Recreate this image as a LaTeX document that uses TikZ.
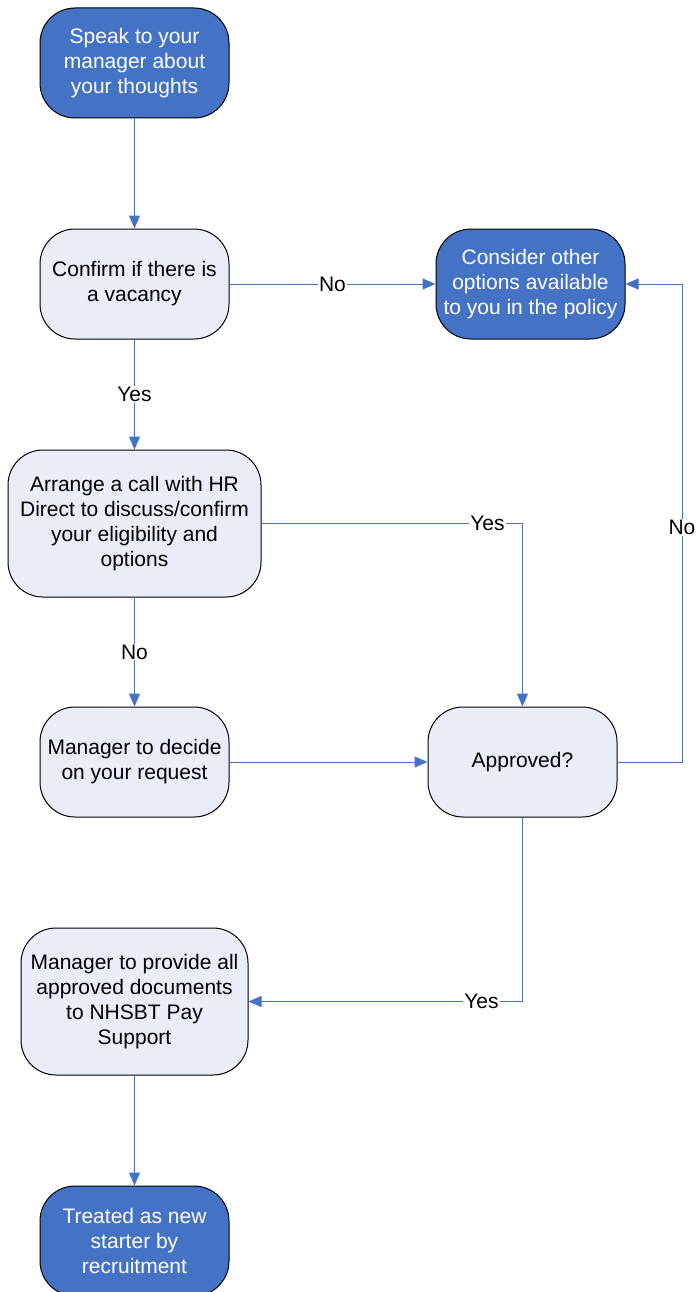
\documentclass[tikz,border=0pt]{standalone}
\usepackage{fontspec}
\setmainfont{Liberation Sans}
\usetikzlibrary{arrows.meta}
\definecolor{darkfill}{HTML}{4472C4}
\definecolor{lightfill}{HTML}{E8EDF7}
\definecolor{lncol}{HTML}{4472C4}
\begin{document}
\begin{tikzpicture}[x=1pt,y=-1pt,
 box/.style={draw=black, line width=1pt, rounded corners=35pt, align=center, font=\fontsize{21}{25}\selectfont, inner sep=0pt},
 darkbox/.style={box, fill=darkfill, text=white},
 lightbox/.style={box, fill=lightfill, text=black},
 conn/.style={draw=lncol, line width=1pt, -{Triangle[length=13pt,width=11pt]}},
 lbl/.style={fill=white, inner sep=1pt, font=\fontsize{21}{25}\selectfont}]
\useasboundingbox[fill=white] (0,0) rectangle (699,1292);

\node[darkbox, minimum width=189pt, minimum height=110pt] (n1) at (134.5,63) {Speak to your\\manager about\\your thoughts};
\node[lightbox, minimum width=189pt, minimum height=110pt] (n2) at (134.5,284) {Confirm if there is\\a vacancy};
\node[darkbox, minimum width=189pt, minimum height=110pt] (n3) at (530.5,284) {Consider other\\options available\\to you in the policy};
\node[lightbox, minimum width=253pt, minimum height=147pt] (n4) at (134.5,523.5) {Arrange a call with HR\\Direct to discuss/confirm\\your eligibility and\\options};
\node[lightbox, minimum width=189pt, minimum height=110pt] (n5) at (134.5,762) {Manager to decide\\on your request};
\node[lightbox, minimum width=189pt, minimum height=110pt] (n6) at (522.5,762) {Approved?};
\node[lightbox, minimum width=227pt, minimum height=147pt] (n7) at (134.5,1001.5) {Manager to provide all\\approved documents\\to NHSBT Pay\\Support};
\node[darkbox, minimum width=189pt, minimum height=110pt] (n8) at (134.5,1241) {Treated as new\\starter by\\recruitment};

\coordinate (r) at (682,0);

\draw[conn] (n1) -- (n2);
\draw[conn] (n2) -- node[lbl] {Yes} (n4);
\draw[conn] (n2) -- node[lbl] {No} (n3);
\draw[conn] (n4.east) -- node[lbl, pos=0.866] {Yes} (n6.north |- n4.east) -- (n6.north);
\draw[conn] (n4) -- node[lbl] {No} (n5);
\draw[conn] (n5) -- (n6);
\draw[conn] (n6.east) -- (n6.east -| r) -- node[lbl, pos=0.49] {No} (n3.east -| r) -- (n3.east);
\draw[conn] (n6.south) -- (n6.south |- n7.east) -- node[lbl, pos=0.15] {Yes} (n7.east);
\draw[conn] (n7) -- (n8);
\end{tikzpicture}
\end{document}
